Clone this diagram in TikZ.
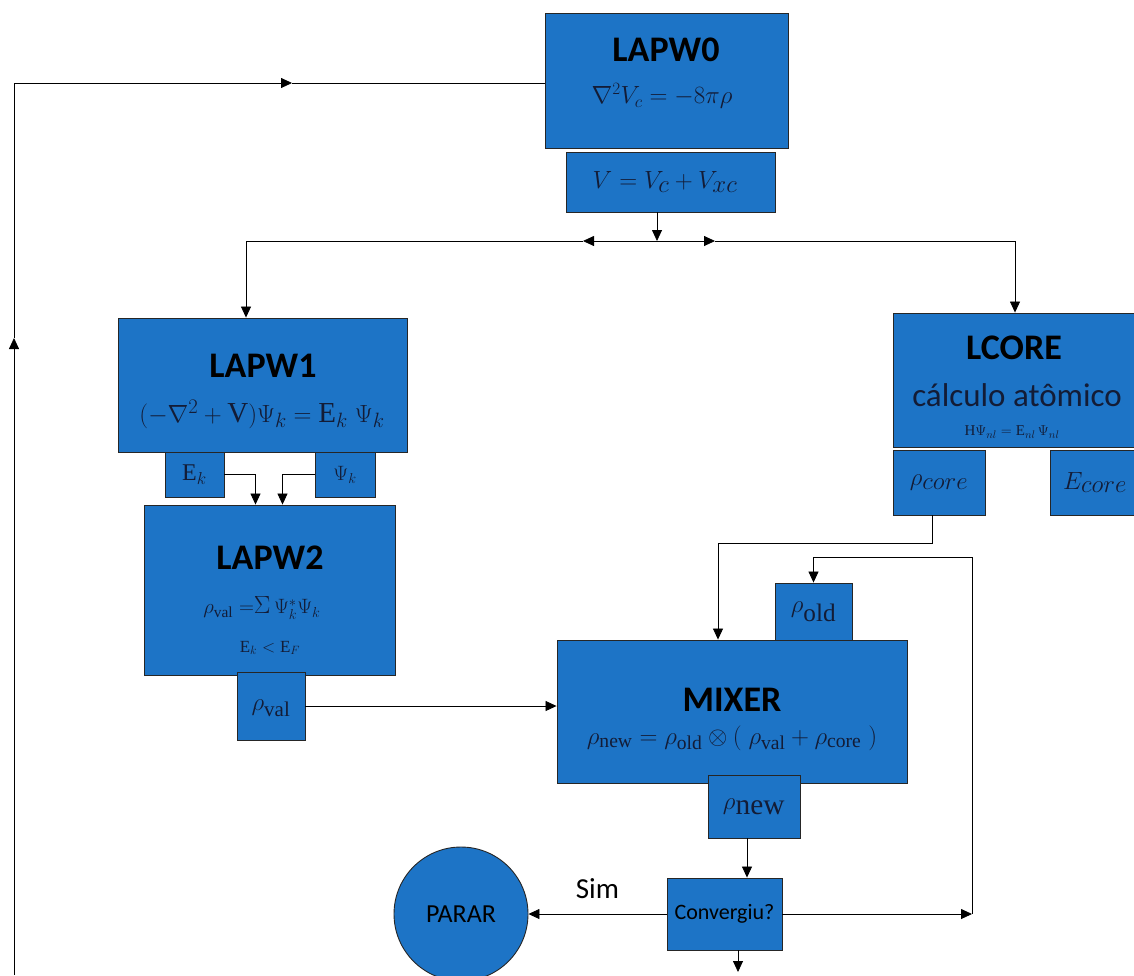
\documentclass[tikz,border=0pt]{standalone}
\usepackage{fontspec}
\setmainfont{Liberation Serif}
\newfontfamily\calfont{Carlito}
\usepackage{tikz}
\usetikzlibrary{arrows.meta,positioning,calc}
\definecolor{lpblue}{HTML}{1D74C6}
\definecolor{lpink}{HTML}{131C36}

\begin{document}
\begin{tikzpicture}[x=1pt,y=-1pt,
    box/.style={draw=black!85,fill=lpblue,line width=0.9pt,inner sep=0pt},
    head/.style={font=\calfont\bfseries\fontsize{36}{38}\selectfont,text=black},
    eq/.style={text=lpink,inner sep=0pt},
    arr/.style={-{Triangle[length=11pt,width=10pt]},line width=0.8pt}]
  \useasboundingbox (0,0) rectangle (1134,975);
  % blocos
  \node[box,minimum width=243pt,minimum height=135pt] (lapw0) at (666.5,80.5) {};
  \node[box,minimum width=209pt,minimum height=60pt] (vbox) at (670.5,182) {};
  \node[box,minimum width=289pt,minimum height=134pt] (lapw1) at (262.5,385) {};
  \node[box,minimum width=251pt,minimum height=170pt] (lapw2) at (269.5,590) {};
  \node[box,minimum width=59pt,minimum height=45pt] (ek) at (194.5,474.5) {};
  \node[box,minimum width=60pt,minimum height=45pt] (psik) at (345,474.5) {};
  \node[box,minimum width=68pt,minimum height=68pt] (rhoval) at (271,706) {};
  \node[box,minimum width=247pt,minimum height=134pt] (lcore) at (1016.5,380) {};
  \node[box,minimum width=92pt,minimum height=65pt] (rhocore) at (939,482.5) {};
  \node[box,minimum width=90pt,minimum height=65pt] (ecore) at (1095,482.5) {};
  \node[box,minimum width=350pt,minimum height=143pt] (mixer) at (732,711.5) {};
  \node[box,minimum width=77pt,minimum height=57pt] (rhoold) at (813.5,611.5) {};
  \node[box,minimum width=92pt,minimum height=63pt] (rhonew) at (754,806.5) {};
  \node[box,minimum width=115pt,minimum height=72pt,font=\calfont\fontsize{22}{24}\selectfont] (conv) at (724.5,914) {Convergiu?};
  \node[box,circle,minimum size=134pt,font=\calfont\fontsize{26}{28}\selectfont] (parar) at (461,914) {PARAR};
  % textos
  \node[head] (t0) at (666,50) {LAPW0};
  \node[eq,font=\fontsize{23}{25}\selectfont] (f0) at (662,96) {$\nabla^2V_c=-8\pi\rho$};
  \node[eq,font=\fontsize{38}{40}\selectfont] (fv) at (665,182) {$V=V_c+V_{xc}$};
  \node[head] (t1) at (263,366) {LAPW1};
  \node[eq,font=\fontsize{29}{31}\selectfont] (f1) at (262,414) {$\bigl(-\nabla^2+\mathrm{V}\bigr)\Psi_k=\mathrm{E}_k\;\Psi_k$};
  \node[eq,font=\fontsize{24}{26}\selectfont] (fek) at (ek) {$\mathrm{E}_k$};
  \node[eq,font=\fontsize{22}{24}\selectfont] (fpsik) at (psik) {$\Psi_k$};
  \node[head] (t2) at (270,558) {LAPW2};
  \node[eq,font=\fontsize{22}{24}\selectfont] (f2) at (262,608) {$\rho_{\mathrm{val}}=${\fontsize{34}{36}\selectfont$\Sigma$}$\,\Psi_k^*\Psi_k$};
  \node[eq,font=\fontsize{17}{19}\selectfont] (f2b) at (270,648) {$\mathrm{E}_k<\mathrm{E}_F$};
  \node[eq,font=\fontsize{30}{32}\selectfont] (fval) at (271,708) {$\rho_{\mathrm{val}}$};
  \node[head] (tc) at (1014,348) {LCORE};
  \node[eq,font=\calfont\fontsize{33}{35}\selectfont] (tc2) at (1017,395) {cálculo atômico};
  \node[eq,font=\fontsize{15}{17}\selectfont] (fc) at (1012,432) {$\mathrm{H}\Psi_{nl}=\mathrm{E}_{nl}\,\Psi_{nl}$};
  \node[eq,font=\fontsize{34}{36}\selectfont] (fcore) at (rhocore) {$\rho_{core}$};
  \node[eq,font=\fontsize{34}{36}\selectfont] (fecore) at (ecore) {$E_{core}$};
  \node[head] (tm) at (732,700) {MIXER};
  \node[eq,font=\fontsize{28}{30}\selectfont] (fm) at (732,738) {$\rho_{\mathrm{new}}=\rho_{\mathrm{old}}\otimes(\;\rho_{\mathrm{val}}+\rho_{\mathrm{core}}\;)$};
  \node[eq,font=\fontsize{36}{38}\selectfont] (fold) at (rhoold) {$\rho_{\mathrm{old}}$};
  \node[eq,font=\fontsize{42}{44}\selectfont] (fnew) at (rhonew) {$\rho_{\mathrm{new}}$};
  % pontos livres
  \coordinate (j) at (657,241);
  \coordinate (hl) at (583,241);
  \coordinate (hr) at (715,241);
  \coordinate (jl) at (246,241);
  \coordinate (jr) at (1015,241);
  \coordinate (nr) at (972,914);
  \coordinate (nb) at (738,972);
  \coordinate (fb) at (14,975);
  \coordinate (up) at (14,338);
  \coordinate (mid) at (292,83);
  % ligacoes
  \draw[arr] (vbox.south -| j) -- (j);
  \draw[arr] (j) -- (hl);
  \draw[arr] (hl) -- (jl) -- (jl |- lapw1.north);
  \draw[arr] (j) -- (hr);
  \draw[arr] (hr) -- (jr) -- (jr |- lcore.north);
  \draw[arr] (ek.east) -| ([xshift=-14pt]lapw2.north);
  \draw[arr] (psik.west) -| ([xshift=13pt]lapw2.north);
  \draw[arr] (rhoval.east) -- (rhoval.east -| mixer.west);
  \draw[arr] ([xshift=-7pt]rhocore.south) -- ++(0,28) -| ([xshift=-14pt]mixer.north);
  \draw[arr] ([xshift=-7pt]rhonew.south) -- ([xshift=-7pt]rhonew.south |- conv.north);
  \draw[arr] (conv.west) -- node[above=12pt,font=\calfont\fontsize{29}{31}\selectfont] (sim) {Sim} (parar.east);
  \draw[arr] (conv.east) -- (nr);
  \draw[arr] (nr) -- (972,557) -| (rhoold.north);
  \draw[arr] (conv.south -| nb) -- (nb);
  \draw[arr] (fb) -- (up);
  \draw[arr] (up) |- (mid);
  \draw (mid) -- (mid -| lapw0.west);
\end{tikzpicture}
\end{document}
